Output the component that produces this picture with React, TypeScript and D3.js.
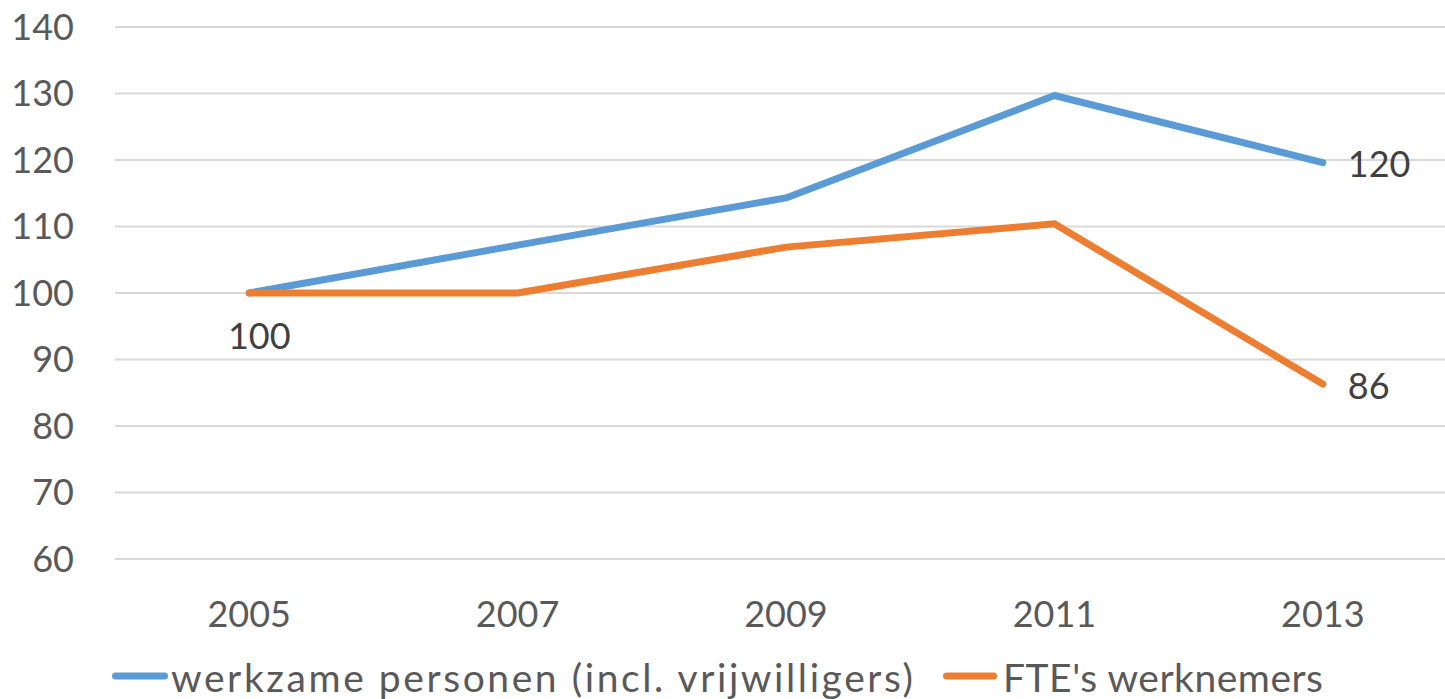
import React, { useEffect, useRef } from 'react';
import * as d3 from 'd3';

const years = ['2005', '2007', '2009', '2011', '2013'];
const werkzamePersonen = [100, 107.2, 114.3, 129.7, 119.6];
const fteWerknemers = [100, 100, 106.9, 110.4, 86.3];
const yTicks = [60, 70, 80, 90, 100, 110, 120, 130, 140];
const seriesNames = ['werkzame personen (incl. vrijwilligers)', "FTE's werknemers"];

const width = 1445, height = 699;
const font = 'Lato, "Open Sans", sans-serif';

export default function App() {
    const ref = useRef<SVGSVGElement>(null);

    useEffect(() => {
        const svg = d3.select(ref.current);
        svg.selectAll('*').remove();

        const x = d3.scalePoint<string>()
            .domain(years)
            .range([115, 1457])
            .padding(0.5);

        const y = d3.scaleLinear()
            .domain([60, 140])
            .range([559, 27]);

        // gridlines
        svg.append('g')
            .selectAll('line')
            .data(yTicks)
            .enter()
            .append('line')
            .attr('x1', 115)
            .attr('x2', width)
            .attr('y1', d => y(d))
            .attr('y2', d => y(d))
            .attr('stroke', '#d9d9d9')
            .attr('stroke-width', 2);

        // y labels
        svg.append('g')
            .selectAll('text')
            .data(yTicks)
            .enter()
            .append('text')
            .attr('x', 74)
            .attr('y', d => y(d))
            .attr('dy', '0.35em')
            .attr('text-anchor', 'end')
            .attr('fill', '#595959')
            .style('font-family', font)
            .style('font-size', '36px')
            .text(d => d);

        // x labels
        svg.append('g')
            .selectAll('text')
            .data(years)
            .enter()
            .append('text')
            .attr('x', d => x(d)!)
            .attr('y', 614)
            .attr('dy', '0.35em')
            .attr('text-anchor', 'middle')
            .attr('fill', '#595959')
            .style('font-family', font)
            .style('font-size', '36px')
            .text(d => d);

        const line = d3.line<number>()
            .x((d, i) => x(years[i])!)
            .y(d => y(d));

        const series = [
            { values: werkzamePersonen, color: '#5b9bd5' },
            { values: fteWerknemers, color: '#ed7d31' },
        ];

        series.forEach(s => {
            svg.append('path')
                .attr('d', line(s.values))
                .attr('fill', 'none')
                .attr('stroke', s.color)
                .attr('stroke-width', 7)
                .attr('stroke-linecap', 'round')
                .attr('stroke-linejoin', 'round');
        });

        // data labels
        const labels = [
            { x: x(years[0])! + 10, y: y(werkzamePersonen[0]) + 43, text: '100', anchor: 'middle' },
            { x: x(years[4])! + 25, y: y(werkzamePersonen[4]) + 2, text: '120', anchor: 'start' },
            { x: x(years[4])! + 25, y: y(fteWerknemers[4]) + 2, text: '86', anchor: 'start' },
        ];
        svg.append('g')
            .selectAll('text')
            .data(labels)
            .enter()
            .append('text')
            .attr('x', d => d.x)
            .attr('y', d => d.y)
            .attr('dy', '0.35em')
            .attr('text-anchor', d => d.anchor)
            .attr('fill', '#404040')
            .style('font-family', font)
            .style('font-size', '36px')
            .text(d => d.text);

        // legend
        const legend = [
            { name: seriesNames[0], color: '#5b9bd5', x1: 112, x2: 168, tx: 171, len: 742 },
            { name: seriesNames[1], color: '#ed7d31', x1: 943, x2: 997, tx: 1003, len: 320 },
        ];
        const lg = svg.append('g');
        legend.forEach(l => {
            lg.append('line')
                .attr('x1', l.x1 + 3.5)
                .attr('x2', l.x2 - 3.5)
                .attr('y1', 676)
                .attr('y2', 676)
                .attr('stroke', l.color)
                .attr('stroke-width', 7)
                .attr('stroke-linecap', 'round');
            lg.append('text')
                .attr('x', l.tx)
                .attr('y', 678)
                .attr('dy', '0.35em')
                .attr('fill', '#595959')
                .attr('textLength', l.len)
                .attr('lengthAdjust', 'spacing')
                .style('font-family', font)
                .style('font-size', '39px')
                .text(l.name);
        });
    }, []);

    return (
        <svg
            ref={ref}
            width={width}
            height={height}
            style={{ position: 'absolute', left: 0, top: 0, background: '#fff' }}
        />
    );
}
